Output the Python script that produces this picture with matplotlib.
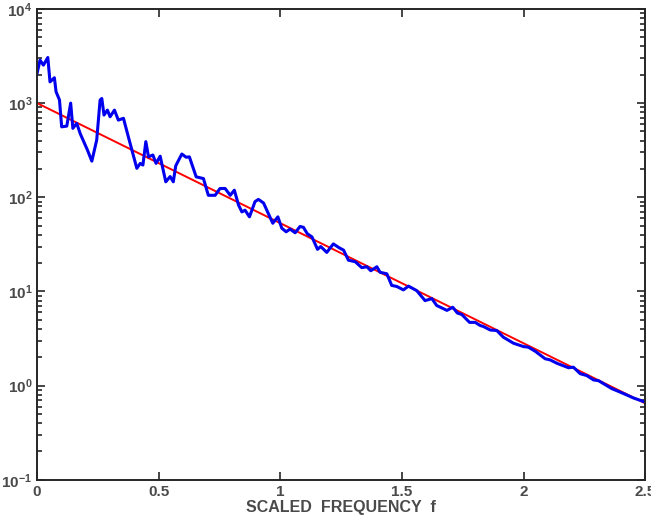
import numpy as np
import matplotlib
matplotlib.use('Agg')
import matplotlib.pyplot as plt
from matplotlib.ticker import LogLocator, NullFormatter

# blue trace (scaled frequency, amplitude)
f_blue = [0.0, 0.012, 0.026, 0.044, 0.053, 0.071, 0.078, 0.092, 0.101, 0.122,
          0.138, 0.147, 0.163, 0.177, 0.207, 0.225, 0.245, 0.259, 0.266, 0.275,
          0.289, 0.300, 0.318, 0.334, 0.355, 0.375, 0.410, 0.424, 0.435, 0.447,
          0.458, 0.476, 0.489, 0.506, 0.529, 0.547, 0.560, 0.570, 0.595, 0.613,
          0.626, 0.654, 0.684, 0.704, 0.732, 0.752, 0.773, 0.794, 0.811, 0.828,
          0.842, 0.855, 0.873, 0.896, 0.910, 0.931, 0.951, 0.969, 0.990, 1.006,
          1.024, 1.040, 1.061, 1.081, 1.095, 1.111, 1.130, 1.153, 1.166, 1.191,
          1.218, 1.243, 1.260, 1.280, 1.308, 1.335, 1.356, 1.372, 1.397, 1.410,
          1.438, 1.458, 1.479, 1.506, 1.527, 1.561, 1.595, 1.623, 1.643, 1.685,
          1.709, 1.728, 1.746, 1.778, 1.801, 1.822, 1.835, 1.863, 1.890, 1.917,
          1.959, 2.000, 2.020, 2.048, 2.089, 2.109, 2.137, 2.185, 2.205, 2.233,
          2.260, 2.288, 2.308, 2.329, 2.363, 2.390, 2.418, 2.452, 2.500]
a_blue = [2080, 2860, 2530, 3050, 1680, 1860, 1320, 1080, 560, 570,
          1000, 540, 610, 476, 317, 242, 405, 1077, 1120, 747,
          843, 716, 843, 660, 690, 440, 203, 229, 220, 390,
          269, 281, 229, 273, 146, 166, 146, 216, 288, 266,
          269, 165, 158, 105, 105, 124, 124, 105, 119, 83,
          70, 73, 62, 90, 95, 87, 67, 53, 62, 47,
          43, 46, 42, 49, 48, 41, 38, 28, 30, 26,
          32, 29, 27.5, 21.5, 20.7, 17.9, 18.3, 16.6, 18.3, 16.0,
          15.4, 11.6, 11.3, 10.4, 11.4, 10.2, 8.0, 8.4, 7.1, 6.3,
          6.8, 5.9, 5.7, 4.7, 4.7, 4.35, 4.25, 3.9, 3.85, 3.27,
          2.82, 2.6, 2.56, 2.32, 1.93, 1.88, 1.73, 1.55, 1.57, 1.34,
          1.28, 1.15, 1.13, 1.05, 0.93, 0.87, 0.81, 0.74, 0.67]

# red reference line (straight on log axis)
f_red = [0.0, 2.5]
a_red = [1000, 0.65]

plt.rcParams['font.family'] = ['Liberation Sans', 'DejaVu Sans']
plt.rcParams['font.weight'] = 'bold'
plt.rcParams['mathtext.default'] = 'bf'
txt = '#4a4a4a'

fig = plt.figure(figsize=(6.51, 5.25), dpi=100)
ax = fig.add_axes([0.057, 0.086, 0.934, 0.897])

ax.plot(f_red, a_red, color='red', lw=1.4)
ax.plot(f_blue, a_blue, color='#0000ee', lw=2.2)

ax.set_yscale('log')
ax.set_xlim(0, 2.5)
ax.set_ylim(1e-1, 1e4)
ax.set_xticks([0, 0.5, 1, 1.5, 2, 2.5])
ax.set_xticklabels(['0', '0.5', '1', '1.5', '2', '2.5'])
ax.yaxis.set_major_locator(LogLocator(base=10, numticks=10))
ax.yaxis.set_minor_locator(LogLocator(base=10, subs=np.arange(2, 10), numticks=20))
ax.yaxis.set_minor_formatter(NullFormatter())

ax.tick_params(which='both', direction='in', top=True, right=True,
               colors='#262626', labelcolor=txt, labelsize=11, width=1.2)
ax.tick_params(which='major', length=6)
ax.tick_params(which='minor', length=3.5)
for sp in ax.spines.values():
    sp.set_linewidth(1.4)
    sp.set_color('#262626')

ax.set_xlabel('SCALED  FREQUENCY  f', fontsize=11.5, color=txt, fontweight='bold', labelpad=1)

fig.savefig('out.png', dpi=100)
